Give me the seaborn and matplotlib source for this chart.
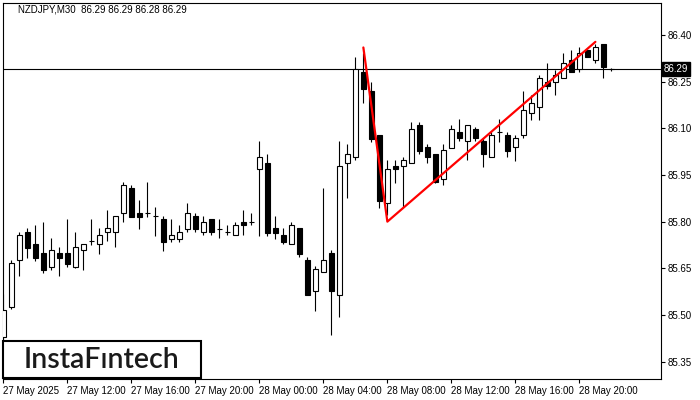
import matplotlib
matplotlib.use("Agg")
import numpy as np
import pandas as pd
import matplotlib.pyplot as plt
import seaborn as sns
from matplotlib.patches import Rectangle
from matplotlib.transforms import blended_transform_factory

# ---------------------------------------------
# DATA  (NZDJPY M30)
# ---------------------------------------------
SYMBOL_TEXT = "NZDJPY,M30  86.29 86.29 86.28 86.29"
LAST_PRICE = 86.29

OPENS = [
    85.43, 85.524, 85.676, 85.767, 85.728, 85.699, 85.655, 85.699, 85.699, 85.655,
    85.708, 85.737, 85.727, 85.766, 85.766, 85.827, 85.907, 85.828, 85.828, 85.817,
    85.807, 85.745, 85.745, 85.777, 85.817, 85.766, 85.807, 85.777, 85.766, 85.756,
    85.798, 85.798, 85.968, 85.988, 85.779, 85.756, 85.727, 85.778, 85.677, 85.576,
    85.637, 85.698, 85.565, 85.988, 86.007, 86.280, 86.220, 86.078, 85.859, 85.978,
    85.978, 85.988, 86.111, 86.039, 86.017, 85.936, 86.038, 86.088, 86.058, 86.097,
    86.058, 86.007, 86.088, 86.078, 86.039, 86.078, 86.148, 86.168, 86.248, 86.248,
    86.261, 86.319, 86.290, 86.352, 86.319, 86.370, 86.290,
]
HIGHS = [
    85.567, 85.677, 85.767, 85.778, 85.789, 85.799, 85.747, 85.718, 85.808, 85.767,
    85.727, 85.808, 85.778, 85.837, 85.817, 85.926, 85.918, 85.869, 85.927, 85.847,
    85.818, 85.807, 85.789, 85.860, 85.827, 85.817, 85.807, 85.807, 85.788, 85.798,
    85.836, 85.827, 86.059, 86.017, 85.818, 85.778, 85.798, 85.778, 85.686, 85.656,
    85.908, 85.708, 86.059, 86.050, 86.330, 86.341, 86.249, 86.078, 85.998, 85.998,
    86.008, 86.120, 86.120, 86.050, 86.017, 86.050, 86.112, 86.130, 86.111, 86.105,
    86.068, 86.088, 86.129, 86.087, 86.078, 86.220, 86.207, 86.271, 86.310, 86.288,
    86.341, 86.352, 86.360, 86.352, 86.372, 86.370, 86.293,
]
LOWS = [
    85.39, 85.520, 85.625, 85.682, 85.674, 85.636, 85.645, 85.625, 85.655, 85.650,
    85.645, 85.726, 85.697, 85.737, 85.717, 85.798, 85.816, 85.777, 85.816, 85.754,
    85.706, 85.735, 85.735, 85.766, 85.766, 85.756, 85.756, 85.746, 85.756, 85.756,
    85.756, 85.788, 85.755, 85.755, 85.745, 85.727, 85.727, 85.685, 85.565, 85.514,
    85.637, 85.434, 85.494, 85.877, 85.998, 86.180, 86.057, 85.845, 85.820, 85.925,
    85.846, 85.988, 86.017, 85.987, 85.923, 85.917, 86.038, 86.058, 85.997, 86.058,
    85.977, 86.007, 86.057, 86.007, 85.996, 86.068, 86.128, 86.128, 86.226, 86.207,
    86.261, 86.280, 86.280, 86.328, 86.310, 86.261, 86.284,
]
CLOSES = [
    85.516, 85.666, 85.756, 85.716, 85.684, 85.645, 85.708, 85.684, 85.665, 85.717,
    85.727, 85.737, 85.756, 85.778, 85.817, 85.917, 85.816, 85.816, 85.828, 85.817,
    85.735, 85.756, 85.766, 85.827, 85.777, 85.798, 85.766, 85.777, 85.766, 85.788,
    85.788, 85.798, 86.007, 85.764, 85.764, 85.735, 85.788, 85.697, 85.565, 85.647,
    85.677, 85.576, 85.978, 86.016, 86.290, 86.227, 86.067, 85.867, 85.968, 85.968,
    85.998, 86.097, 86.028, 86.008, 85.928, 86.029, 86.097, 86.068, 86.111, 86.068,
    86.016, 86.078, 86.088, 86.028, 86.068, 86.158, 86.180, 86.261, 86.237, 86.271,
    86.309, 86.280, 86.341, 86.328, 86.360, 86.298, 86.290,
]

X_TICK_BARS = [0, 8, 16, 24, 32, 40, 48, 56, 64, 72]
X_TICK_LABELS = [
    "27 May 2025", "27 May 12:00", "27 May 16:00", "27 May 20:00",
    "28 May 00:00", "28 May 04:00", "28 May 08:00", "28 May 12:00",
    "28 May 16:00", "28 May 20:00",
]
Y_TICKS = [85.35, 85.50, 85.65, 85.80, 85.95, 86.10, 86.25, 86.40]

# red pattern line (top -> bottom -> top)
PATTERN_BARS = [45, 48, 74]
PATTERN_PRICES = [86.360, 85.800, 86.378]

# ---------------------------------------------
# PLOT
# ---------------------------------------------
sns.set_theme(style="white")
plt.rcParams["font.family"] = ["Liberation Sans", "DejaVu Sans"]

df = pd.DataFrame({"open": OPENS, "high": HIGHS, "low": LOWS, "close": CLOSES})
df["bar"] = np.arange(len(df))
df["up"] = df["close"] >= df["open"]

fig = plt.figure(figsize=(7, 4), dpi=100)
ax = fig.add_axes([2.7 / 700, 1 - 379 / 400, (661 - 2.7) / 700, (379 - 3) / 400])
ax.set_facecolor("white")

ax.axhline(LAST_PRICE, color="black", linewidth=0.8, zorder=1)

# wicks, then bodies on top
ax.vlines(df["bar"], df["low"], df["high"], color="black", linewidth=0.8, zorder=2)
body_bottom = df[["open", "close"]].min(axis=1)
body_height = (df["close"] - df["open"]).abs()
ax.bar(df["bar"], body_height, bottom=body_bottom, width=0.6,
       color=np.where(df["up"], "white", "black"), edgecolor="black",
       linewidth=0.8, zorder=3)

sns.lineplot(x=PATTERN_BARS, y=PATTERN_PRICES, color="red", linewidth=1.6,
             sort=False, ax=ax, zorder=4)

ax.set_xlim(-0.075, 82.2)
ax.set_ylim(85.294, 86.503)

ax.yaxis.tick_right()
ax.set_yticks(Y_TICKS)
ax.set_yticklabels([f"{v:.2f}" for v in Y_TICKS])
ax.set_xticks(X_TICK_BARS)
ax.set_xticklabels(X_TICK_LABELS, ha="left")
ax.tick_params(axis="both", direction="out", length=3, width=0.8, labelsize=7,
               colors="black", pad=2)
ax.tick_params(axis="y", right=True, left=False)
ax.tick_params(axis="x", bottom=True)

for s in ax.spines.values():
    s.set_color("black")
    s.set_linewidth(0.8)

# current price label on the right axis
trans = blended_transform_factory(ax.transAxes, ax.transData)
ax.text(1.004, LAST_PRICE, f"{LAST_PRICE:.2f}", transform=trans, fontsize=7,
        color="white", va="center", ha="left", zorder=6,
        bbox=dict(boxstyle="square,pad=0.2", facecolor="black", edgecolor="black"))

# symbol header
fig.text(18 / 700, 1 - 10 / 400, SYMBOL_TEXT, fontsize=7, color="black",
         va="center", ha="left")

# logo box
fig.add_artist(Rectangle((3 / 700, 1 - 378 / 400), 198 / 700, 37 / 400,
                         transform=fig.transFigure, facecolor="white",
                         edgecolor="black", linewidth=1.5, zorder=10))
fig.text(102 / 700, 1 - 359.5 / 400, "InstaF\u0131ntech", fontsize=20.5,
         family=["Lato", "DejaVu Sans"], weight="semibold", color="#1a1a1a",
         ha="center", va="center", zorder=11)

fig.savefig("out.png", dpi=100)
